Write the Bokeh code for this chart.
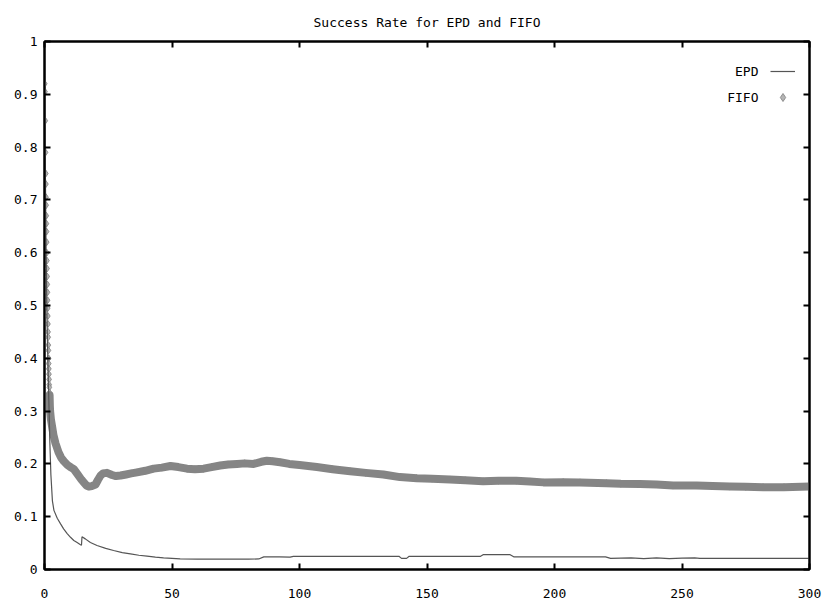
from bokeh.plotting import figure
from bokeh.models import (Range1d, LinearAxis, FixedTicker, CustomJSTickFormatter,
                          Legend, LegendItem, Label)
from bokeh.core.properties import value
from bokeh.embed import file_html
from bokeh.resources import INLINE

title_text = "Success Rate for EPD and FIFO"
series_names = ["EPD", "FIFO"]
x_ticks = [0, 50, 100, 150, 200, 250, 300]
y_ticks = [0, 0.1, 0.2, 0.3, 0.4, 0.5, 0.6, 0.7, 0.8, 0.9, 1.0]
y_tick_labels = ["0", "0.1", "0.2", "0.3", "0.4", "0.5", "0.6", "0.7", "0.8", "0.9", "1"]

epd_x = [0, 0.2, 0.4, 0.6, 0.8, 1.0, 1.3, 1.7, 2.1, 2.5, 3.1, 3.7, 5.0, 6.3, 7.5, 8.9,
         10.2, 11.5, 12.8, 14.1, 14.5, 14.7, 16, 18, 20.6, 24, 27.1, 30.5, 33.7, 37,
         40.2, 43.5, 46.7, 50, 53.2, 60, 66.3, 72, 76, 80, 84, 86, 92, 96.3, 97.6,
         110, 125, 139, 140, 142, 143, 160, 171, 172, 182.6, 184, 200, 215, 220, 222,
         230, 235, 240, 245, 250, 255, 257, 270, 285, 300]
epd_y = [1.0, 0.85, 0.72, 0.62, 0.54, 0.47, 0.40, 0.32, 0.24, 0.18, 0.13, 0.112, 0.097,
         0.0865, 0.077, 0.068, 0.061, 0.055, 0.051, 0.047, 0.046, 0.062, 0.058, 0.051,
         0.0455, 0.040, 0.036, 0.032, 0.0297, 0.027, 0.0253, 0.0235, 0.022, 0.021,
         0.020, 0.0195, 0.0196, 0.0198, 0.0195, 0.0195, 0.020, 0.024, 0.024, 0.0235,
         0.025, 0.025, 0.025, 0.025, 0.021, 0.021, 0.025, 0.025, 0.025, 0.028, 0.028,
         0.024, 0.024, 0.024, 0.024, 0.021, 0.022, 0.0205, 0.022, 0.0205, 0.0215,
         0.022, 0.021, 0.021, 0.021, 0.021]

fifo_x = [0, 0.1, 0.2, 0.3, 0.4, 0.5, 0.55, 0.6, 0.65, 0.7, 0.75, 0.8, 0.85, 0.9, 0.95,
          1.0, 1.05, 1.1, 1.15, 1.2, 1.25, 1.3, 1.35, 1.4, 1.45, 1.5, 1.55, 1.6, 1.65,
          1.7, 1.75, 1.8, 1.85, 1.9, 1.95, 2.0, 2.05, 2.1, 2.2, 2.5, 3.0, 3.5, 4.3, 5.5,
          6.5, 7.6, 9.0, 10.5,
          11.5, 13, 14.5, 15.4, 16.5, 17.4, 18.5, 20.0, 21.0, 22.0, 23.0, 24.5, 26.5,
          28, 29.8, 32, 34, 36.3, 39.5, 42.8, 46, 49.4, 52.5, 55.9, 59, 62.4, 65.5,
          68.9, 72, 75.5, 78.5, 82, 85, 87.2, 89.5, 92.4, 96, 100, 106.8, 113, 119.9,
          126, 132.9, 139.4, 146, 152, 159, 165, 172, 178, 185, 190.4, 195.6, 203.4,
          210, 220.4, 226, 233.5, 240, 246.5, 255.7, 262, 268.7, 275, 281.8, 290, 300]
fifo_y = [1.0, 0.92, 0.905, 0.85, 0.79, 0.75, 0.73, 0.705, 0.69, 0.67, 0.655, 0.64, 0.62,
          0.6, 0.585, 0.57, 0.555, 0.54, 0.525, 0.51, 0.495, 0.48, 0.465, 0.45, 0.44,
          0.425, 0.415, 0.4, 0.39, 0.38, 0.37, 0.36, 0.35, 0.345, 0.335, 0.33, 0.32,
          0.31, 0.3, 0.285, 0.27, 0.255, 0.239,
          0.222, 0.212, 0.205, 0.198, 0.193, 0.19, 0.18, 0.17, 0.165, 0.159, 0.157,
          0.158, 0.161, 0.170, 0.178, 0.182, 0.183, 0.179, 0.177, 0.178, 0.18, 0.182,
          0.184, 0.187, 0.191, 0.193, 0.196, 0.194, 0.191, 0.19, 0.191, 0.194, 0.197,
          0.199, 0.200, 0.201, 0.200, 0.204, 0.206, 0.205, 0.203, 0.200, 0.198, 0.194,
          0.190, 0.186, 0.183, 0.180, 0.175, 0.173, 0.172, 0.1705, 0.169, 0.167, 0.168,
          0.168, 0.1667, 0.165, 0.1654, 0.165, 0.1635, 0.1625, 0.162, 0.161, 0.159,
          0.159, 0.158, 0.157, 0.1565, 0.156, 0.156, 0.157]

FONT = "DejaVu Sans Mono"

p = figure(width=823, height=602, output_backend="svg", toolbar_location=None,
           x_range=Range1d(0, 300), y_range=Range1d(0, 1),
           min_border_left=44, min_border_right=14, min_border_top=41, min_border_bottom=33,
           x_axis_location=None, y_axis_location=None)
p.title.text = title_text
p.title.align = "center"
p.title.text_font = FONT
p.title.text_font_size = "13px"
p.title.text_font_style = "normal"
p.title.text_color = "black"
p.title.standoff = 23
p.grid.visible = False
p.outline_line_color = "black"
p.outline_line_width = 2
p.background_fill_color = "white"
p.border_fill_color = "white"

blank = CustomJSTickFormatter(code="return ''")

def style_axis(ax, labelled):
    ax.axis_line_color = "black"
    ax.axis_line_width = 2
    ax.major_tick_in = 6
    ax.major_tick_out = 0
    ax.major_tick_line_width = 2
    ax.major_tick_line_color = "black"
    ax.minor_tick_line_color = None
    ax.major_label_text_font = FONT
    ax.major_label_text_font_size = "13px"
    ax.major_label_text_color = "black"
    if not labelled:
        ax.formatter = blank
        ax.major_label_standoff = 0

xb = LinearAxis(ticker=FixedTicker(ticks=x_ticks))
style_axis(xb, True)
xb.major_label_standoff = 19
p.add_layout(xb, "below")
xt = LinearAxis(ticker=FixedTicker(ticks=x_ticks))
style_axis(xt, False)
p.add_layout(xt, "above")

yl = LinearAxis(ticker=FixedTicker(ticks=y_ticks))
style_axis(yl, True)
yl.major_label_standoff = 7
yl.major_label_overrides = {t: s for t, s in zip(y_ticks, y_tick_labels)}
p.add_layout(yl, "left")
yr = LinearAxis(ticker=FixedTicker(ticks=y_ticks))
style_axis(yr, False)
p.add_layout(yr, "right")

# FIFO: diamonds for every point, a thick band where the points crowd together
fifo_pts = p.scatter(fifo_x, fifo_y, marker="diamond", size=7,
                     fill_color="#b4b4b4", line_color="#8e8e8e", line_width=1)
band = [i for i, v in enumerate(fifo_y) if v <= 0.33]
p.line([fifo_x[i] for i in band], [fifo_y[i] for i in band],
       line_width=8, line_color="#858585", line_join="round", line_cap="round")

epd_line = p.line(epd_x, epd_y, line_width=1.2, line_color="#555555")

leg = Legend(items=[LegendItem(label=value(""), renderers=[epd_line]),
                    LegendItem(label=value(""), renderers=[fifo_pts])],
             location=(726, 462), glyph_width=25, glyph_height=20,
             label_width=0, label_standoff=0, label_height=20, spacing=6,
             padding=0, margin=0, border_line_alpha=0, background_fill_alpha=0)
p.add_layout(leg, "center")

for name, yy in zip(series_names, [498, 472]):
    p.add_layout(Label(x=714, y=yy, x_units="screen", y_units="screen", text=name,
                       text_align="right", text_baseline="middle",
                       text_font=FONT, text_font_size="13px", text_color="black"))

open("out.html", "w").write(file_html(p, INLINE))
